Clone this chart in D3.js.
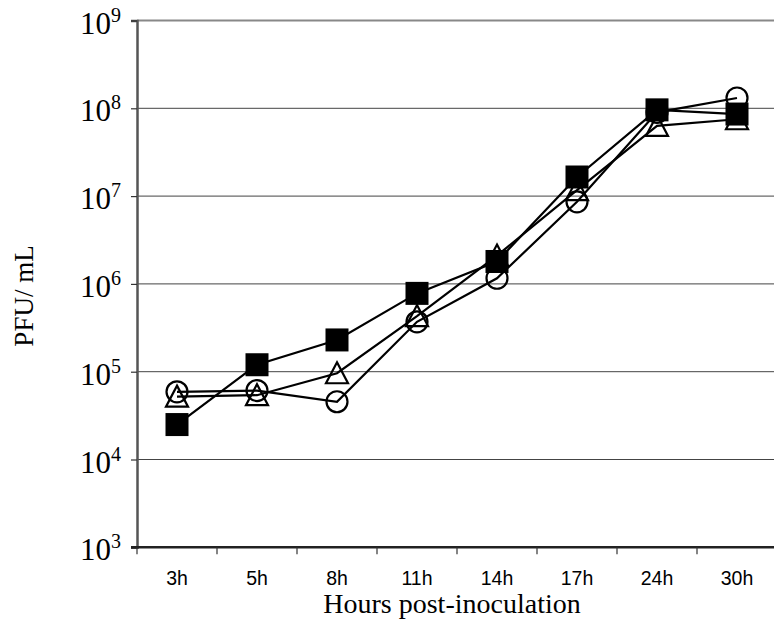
<!DOCTYPE html>
<html><head><meta charset="utf-8">
<script src="https://cdn.jsdelivr.net/npm/d3@7"></script>
<style>html,body{margin:0;padding:0;background:#fff;overflow:hidden}</style>
</head><body>
<svg id="chart" width="774" height="620"></svg>
<script>
const categories = ["3h","5h","8h","11h","14h","17h","24h","30h"];
const squareSeries = [2.5e4, 1.2e5, 2.3e5, 7.8e5, 1.8e6, 1.65e7, 9.6e7, 8.6e7];
const circleSeries = [5.9e4, 6.1e4, 4.55e4, 3.7e5, 1.16e6, 8.6e6, 9.0e7, 1.31e8];
const triangleSeries = [5.2e4, 5.4e4, 9.6e4, 4.3e5, 2.1e6, 1.17e7, 6.3e7, 7.5e7];
const yTicks = [1e3, 1e4, 1e5, 1e6, 1e7, 1e8, 1e9];
const xTitle = "Hours post-inoculation";
const yTitle = "PFU/ mL";

(function () {
const svg = d3.select("#chart");
const pL = 137, pR = 777, pT = 20.5, pB = 547.3;
const x = d3.scaleBand().domain(categories).range([pL, pR]);
const y = d3.scaleLog().domain([1e3, 1e9]).range([pB, pT]);
const cx = c => x(c) + x.bandwidth() / 2;

// gridlines
svg.append("g").selectAll("line").data(yTicks.filter(t => t > 1e3 && t < 1e9)).join("line")
  .attr("x1", pL).attr("x2", pR).attr("y1", d => y(d)).attr("y2", d => y(d))
  .attr("stroke", "#444").attr("stroke-width", 1);
// top border
svg.append("line").attr("x1", pL).attr("x2", pR).attr("y1", y(1e9)).attr("y2", y(1e9))
  .attr("stroke", "#888").attr("stroke-width", 2);

// y axis
const ya = svg.append("g").attr("transform", `translate(${pL},0)`)
  .call(d3.axisLeft(y).tickValues(yTicks).tickSize(6).tickFormat(""));
ya.select(".domain").attr("stroke", "#555").attr("stroke-width", 2.5);
ya.selectAll(".tick line").attr("stroke", "#333").attr("stroke-width", 1.2);

// y tick labels with superscripts
const yl = svg.append("g").selectAll("text").data(yTicks).join("text")
  .attr("x", 80).attr("y", d => y(d) + 13)
  .attr("font-family", "Liberation Serif, Times New Roman, serif")
  .attr("font-size", 31).attr("fill", "#000");
yl.append("tspan").text("10");
yl.append("tspan").attr("dy", -12).attr("font-size", 20).text(d => Math.round(Math.log10(d)));

// x axis
const xa = svg.append("g").attr("transform", `translate(0,${pB})`)
  .call(d3.axisBottom(x).tickSize(0).tickPadding(24));
xa.select(".domain").remove();
xa.selectAll("text").attr("font-family", "Liberation Sans, Arial, sans-serif")
  .attr("font-size", 19.5).attr("fill", "#000");
svg.append("line").attr("x1", pL - 6).attr("x2", pR).attr("y1", pB).attr("y2", pB)
  .attr("stroke", "#222").attr("stroke-width", 2.5);
svg.append("g").selectAll("line").data(categories).join("line")
  .attr("x1", d => x(d)).attr("x2", d => x(d)).attr("y1", pB).attr("y2", pB + 7)
  .attr("stroke", "#333").attr("stroke-width", 1.2);

// titles
svg.append("text").attr("x", 452).attr("y", 613).attr("text-anchor", "middle")
  .attr("font-family", "Liberation Serif, Times New Roman, serif").attr("font-size", 28)
  .attr("fill", "#000").text(xTitle);
svg.append("text").attr("transform", "translate(33,296) rotate(-90)").attr("text-anchor", "middle")
  .attr("font-family", "Liberation Serif, Times New Roman, serif").attr("font-size", 27)
  .attr("fill", "#000").text(yTitle);

const line = d3.line().x((d, i) => cx(categories[i])).y(d => y(d));
const plot = svg.append("g");
function series(vals, shape) {
  plot.append("path").datum(vals).attr("d", line).attr("fill", "none")
    .attr("stroke", "#000").attr("stroke-width", 2.2);
  const g = plot.append("g");
  vals.forEach((v, i) => {
    const px = cx(categories[i]), py = y(v);
    if (shape === "circle") {
      g.append("circle").attr("cx", px).attr("cy", py).attr("r", 10.5)
        .attr("fill", "none").attr("stroke", "#000").attr("stroke-width", 2.2);
    } else if (shape === "triangle") {
      g.append("path").attr("d", `M${px},${py - 11}L${px + 11},${py + 10}L${px - 11},${py + 10}Z`)
        .attr("fill", "none").attr("stroke", "#000").attr("stroke-width", 2.2);
    } else {
      g.append("rect").attr("x", px - 11.5).attr("y", py - 11.5).attr("width", 23).attr("height", 23)
        .attr("fill", "#000");
    }
  });
}
series(circleSeries, "circle");
series(triangleSeries, "triangle");
series(squareSeries, "square");
})();
</script>
</body></html>
